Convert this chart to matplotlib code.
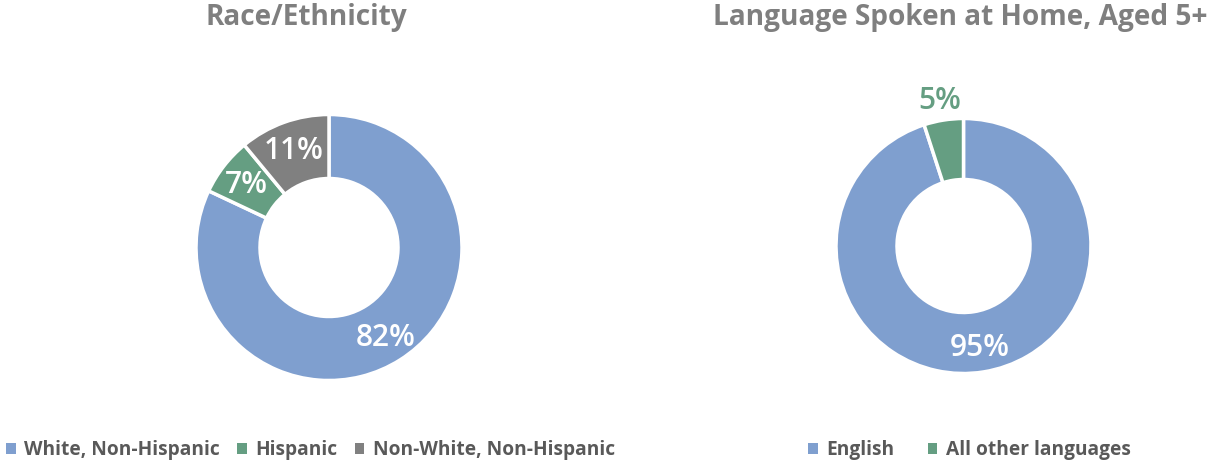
import matplotlib
matplotlib.use("Agg")
import matplotlib.pyplot as plt
import numpy as np

race_labels = ["White, Non-Hispanic", "Hispanic", "Non-White, Non-Hispanic"]
race_values = [82, 7, 11]
race_colors = ["#7F9FCF", "#659E82", "#808080"]

lang_labels = ["English", "All other languages"]
lang_values = [95, 5]
lang_colors = ["#7F9FCF", "#659E82"]

titles = ["Race/Ethnicity", "Language Spoken at Home, Aged 5+"]

plt.rcParams['font.family'] = ['Open Sans', 'DejaVu Sans']

W, H = 1215, 465
fig = plt.figure(figsize=(W / 100, H / 100), dpi=100)
ax = fig.add_axes([0, 0, 1, 1])

def donut(values, colors, cx, cy, r, w, outside=()):
    wedges, _ = ax.pie(values, colors=colors, center=(cx, H - cy), radius=r,
                       startangle=90, counterclock=False,
                       wedgeprops=dict(width=w, edgecolor="white", linewidth=2.5))
    for i, (wd, v) in enumerate(zip(wedges, values)):
        mid = np.deg2rad((wd.theta1 + wd.theta2) / 2)
        if i in outside:
            rr = r * 1.17
            col = colors[i]
        else:
            rr = r - w / 2 + 4
            col = "white"
        ax.text(cx + rr * np.cos(mid), H - cy + rr * np.sin(mid) - 2, f"{v}%",
                ha="center", va="center", color=col, fontsize=21.5,
                fontweight="semibold")
    return wedges

w1 = donut(race_values, race_colors, 329, 247.5, 133, 64)
w2 = donut(lang_values, lang_colors, 963.5, 246, 127.5, 61, outside=(1,))

ax.set_xlim(0, W)
ax.set_ylim(0, H)
ax.set_aspect("auto")
ax.axis("off")

fig.text(306 / W, 1 - 17 / H, titles[0], ha="center", va="center",
         fontsize=20.2, fontweight="bold", color="#7F7F7F")
fig.text(960 / W, 1 - 17 / H, titles[1], ha="center", va="center",
         fontsize=20.2, fontweight="bold", color="#7F7F7F")

leg_kw = dict(frameon=False, handlelength=0.5, handleheight=0.5,
              handletextpad=0.45, borderaxespad=0, borderpad=0,
              prop=dict(size=13.8, weight="bold"), labelcolor="#595959")
l1 = fig.legend(w1, race_labels, loc="center left", ncol=3,
                bbox_to_anchor=(6 / W, 1 - 450 / H), columnspacing=0.9, **leg_kw)
l2 = fig.legend(w2, lang_labels, loc="center left", ncol=2,
                bbox_to_anchor=(808 / W, 1 - 450 / H), columnspacing=1.75, **leg_kw)
for lg in (l1, l2):
    for h in lg.legend_handles:
        h.set_edgecolor("none")

fig.savefig("out.png", dpi=100)
